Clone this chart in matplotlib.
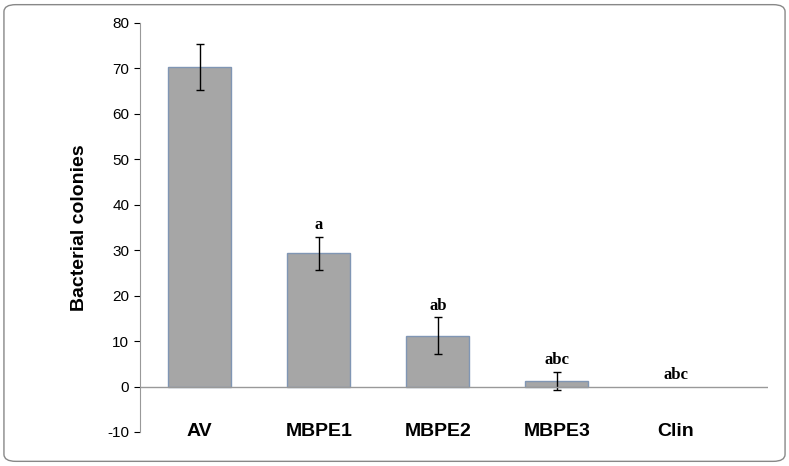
import matplotlib.pyplot as plt
from matplotlib.patches import FancyBboxPatch

groups = ['AV', 'MBPE1', 'MBPE2', 'MBPE3', 'Clin']
colonies = [70.3, 29.3, 11.2, 1.3, 0.0]
errors = [5.0, 3.7, 4.0, 2.0, 0.0]
letters = ['', 'a', 'ab', 'abc', 'abc']

plt.rcParams['axes.unicode_minus'] = False
fig = plt.figure(figsize=(7.89, 4.66), dpi=100)
fig.patches.append(FancyBboxPatch((0.005, 0.01), 0.99, 0.98, boxstyle='round,pad=0,rounding_size=0.015',
                                  transform=fig.transFigure, fill=False, edgecolor='#888888', lw=1))
ax = fig.add_axes([0.177, 0.073, 0.796, 0.878])

x = range(len(groups))
ax.bar(x[:4], colonies[:4], width=0.53, color='#a6a6a6', edgecolor='#8096b4', lw=1)
ax.errorbar(x[:4], colonies[:4], yerr=errors[:4], fmt='none', ecolor='black', capsize=3, lw=1)
for i, (v, e, t) in enumerate(zip(colonies, errors, letters)):
    if t:
        ax.text(i, v + e + 0.8, t, ha='center', va='bottom', fontsize=12, fontweight='bold', family='Liberation Serif')

ax.set_xlim(-0.504, 4.77)
ax.set_ylim(-10, 80)
ax.set_yticks(range(-10, 81, 10))
ax.tick_params(axis='y', labelsize=11, direction='out', length=4)
for lab in ax.get_yticklabels():
    lab.set_family('Liberation Sans')
ax.axhline(0, color='#999999', lw=1)
for s in ['top', 'right', 'bottom']:
    ax.spines[s].set_visible(False)
ax.spines['left'].set_color('#999999')
ax.set_xticks([])
for i, g in enumerate(groups):
    ax.text(i, -10, g, ha='center', va='center', fontsize=14, fontweight='bold', family='Liberation Sans')
ax.set_ylabel('Bacterial colonies', fontsize=14, fontweight='bold', family='Liberation Sans', labelpad=14)

fig.savefig('out.png', dpi=100)
